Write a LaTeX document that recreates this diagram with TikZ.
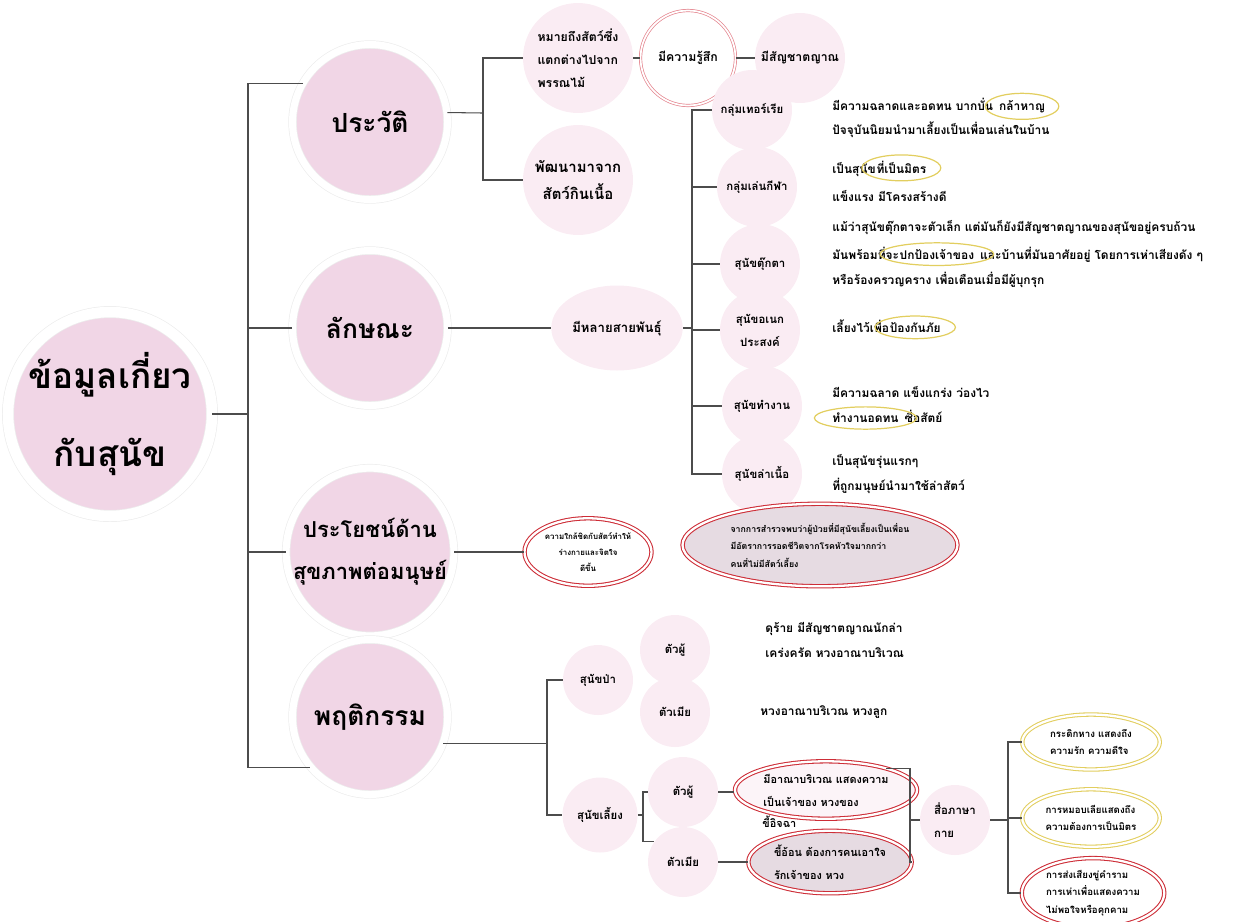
\documentclass[tikz,border=0pt]{standalone}
\usepackage{fontspec}
\usepackage{tikz}
\usetikzlibrary{positioning,fit,shapes.geometric}
\newfontfamily\thaifont[Script=Thai]{Loma}
\definecolor{blushpink}{RGB}{241,214,230}
\definecolor{palepink}{RGB}{250,236,243}
\definecolor{markred}{RGB}{205,45,55}
\definecolor{softred}{RGB}{228,130,140}
\definecolor{markyel}{RGB}{226,206,95}
\definecolor{greyfill}{RGB}{230,219,226}
\tikzset{
  rootcirc/.style={circle, fill=blushpink, draw=black!7, double=white, double distance=6pt, line width=0.4pt,
    minimum size=3.8cm, inner sep=0pt, align=center, font=\thaifont\bfseries\fontsize{20}{44}\selectfont},
  bigcirc/.style={circle, fill=blushpink, draw=black!7, double=white, double distance=4pt, line width=0.4pt,
    minimum size=3.1cm, inner sep=0pt, align=center, font=\thaifont\bfseries\fontsize{15}{22}\selectfont},
  softcirc/.style={circle, fill=palepink, minimum size=1.6cm, inner sep=1pt, align=center,
    font=\thaifont\bfseries\fontsize{6.5}{13}\selectfont},
  softoval/.style={ellipse, fill=palepink, minimum width=2.6cm, minimum height=1.7cm, inner sep=1pt,
    font=\thaifont\bfseries\fontsize{7.5}{13}\selectfont},
  desc/.style={inner sep=0pt, align=left, font=\thaifont\bfseries\fontsize{6.8}{14.5}\selectfont},
  hilite/.style={ellipse, draw=markyel, line width=0.7pt, inner sep=1.5pt},
  redring/.style={ellipse, draw=markred, double=white, double distance=1.3pt, line width=0.6pt,
    inner sep=1pt, align=left, font=\thaifont\bfseries\fontsize{5}{10}\selectfont},
  yelring/.style={ellipse, draw=markyel, double=white, double distance=1.3pt, line width=0.6pt,
    inner sep=1pt, align=left, font=\thaifont\bfseries\fontsize{5.5}{10}\selectfont},
  link/.style={draw=black!70, line width=0.6pt}
}
\begin{document}
\begin{tikzpicture}[x=0.02cm, y=-0.02cm]
\useasboundingbox (0,0) rectangle (1246,921);

\node[rootcirc] (root) at (110,414) {ข้อมูลเกี่ยว\\กับสุนัข};
\coordinate (trunk) at (248,414);

\node[bigcirc] (pv) at (370,122) {ประวัติ};
\node[bigcirc] (lk) at (370,328) {ลักษณะ};
\node[bigcirc, font=\thaifont\bfseries\fontsize{12.5}{24}\selectfont] (pr) at (370,552) {ประโยชน์ด้าน\\สุขภาพต่อมนุษย์};
\node[bigcirc] (pf) at (370,717) {พฤติกรรม};

\draw[link] (root.east) -- (trunk);
\draw[link] (pv.150) -| (trunk) |- (pf.220);
\draw[link] (lk.west) -- (lk.west -| trunk);
\draw[link] (pr.west) -- (pr.west -| trunk);

\node[softcirc, minimum size=2.2cm, align=left, font=\thaifont\bfseries\fontsize{7}{13}\selectfont] (mh) at (578,58) {หมายถึงสัตว์ซึ่ง\\แตกต่างไปจาก\\พรรณไม้};
\node[softcirc, minimum size=2.2cm, font=\thaifont\bfseries\fontsize{8.5}{15}\selectfont] (pt) at (578,180) {พัฒนามาจาก\\สัตว์กินเนื้อ};
\node[circle, draw=softred, double=white, double distance=1pt, line width=0.4pt, minimum size=1.9cm,
  font=\thaifont\bfseries\fontsize{7}{12}\selectfont] (rf) at (688,58) {มีความรู้สึก};
\node[softcirc, minimum size=1.8cm, font=\thaifont\bfseries\fontsize{7}{12}\selectfont] (ms) at (800,58) {มีสัญชาตญาณ};
\coordinate (pvbus) at (483,113);
\draw[link] (pv.7) -- (pvbus);
\draw[link] (mh.west) -| (pvbus) |- (pt.west);
\draw[link] (mh.east) -- (rf.west);
\draw[link] (rf.east) -- (ms.west);

\node[softoval] (ml) at (617,328) {มีหลายสายพันธุ์};
\coordinate (lkbus) at (692,328);
\draw[link] (lk.east) -- (ml.west);
\draw[link] (ml.east) -- (lkbus);

\node[softcirc] (g1) at (752,110) {กลุ่มเทอร์เรีย};
\node[softcirc] (g2) at (757,187) {กลุ่มเล่นกีฬา};
\node[softcirc] (g3) at (760,264) {สุนัขตุ๊กตา};
\node[softcirc] (g4) at (760,330) {สุนัขอเนก\\ประสงค์};
\node[softcirc] (g5) at (762,406) {สุนัขทำงาน};
\node[softcirc] (g6) at (762,474) {สุนัขล่าเนื้อ};
\draw[link] (g1.west) -| (lkbus) |- (g6.west);
\draw[link] (g2.west) -- (g2.west -| lkbus);
\draw[link] (g3.west) -- (g3.west -| lkbus);
\draw[link] (g4.west) -- (g4.west -| lkbus);
\draw[link] (g5.west) -- (g5.west -| lkbus);

\node[desc, anchor=west] (d1a) at (832,104) {มีความฉลาดและอดทน บากบั่น};
\node[desc, base right=3pt of d1a] (hw1) {กล้าหาญ};
\node[desc, anchor=west] (d1b) at (832,130) {ปัจจุบันนิยมนำมาเลี้ยงเป็นเพื่อนเล่นในบ้าน};
\node[desc, anchor=west] (d2a) at (832,170) {เป็นสุนัข};
\node[desc, base right=0pt of d2a] (hw2) {ที่เป็นมิตร};
\node[desc, anchor=west] (d2b) at (832,196) {แข็งแรง มีโครงสร้างดี};
\node[desc, anchor=west] (d3a) at (832,228) {แม้ว่าสุนัขตุ๊กตาจะตัวเล็ก แต่มันก็ยังมีสัญชาตญาณของสุนัขอยู่ครบถ้วน};
\node[desc, anchor=west] (d3b) at (832,253) {มันพร้อมที่จะ};
\node[desc, base right=0pt of d3b] (hw3) {ปกป้องเจ้าของ};
\node[desc, base right=3pt of hw3] (d3c) {และบ้านที่มันอาศัยอยู่ โดยการเห่าเสียงดัง ๆ};
\node[desc, anchor=west] (d3d) at (832,280) {หรือร้องครวญคราง เพื่อเตือนเมื่อมีผู้บุกรุก};
\node[desc, anchor=west] (d4a) at (832,326) {เลี้ยงไว้เพื่อ};
\node[desc, base right=0pt of d4a] (hw4) {ป้องกันภัย};
\node[desc, anchor=west] (d5a) at (832,392) {มีความฉลาด แข็งแกร่ง ว่องไว};
\node[desc, anchor=west] (hw5) at (832,418) {ทำงานอดทน};
\node[desc, base right=3pt of hw5] (d5b) {ซื่อสัตย์};
\node[desc, anchor=west] (d6a) at (832,462) {เป็นสุนัขรุ่นแรกๆ};
\node[desc, anchor=west] (d6b) at (832,486) {ที่ถูกมนุษย์นำมาใช้ล่าสัตว์};
\node[hilite, fit=(hw1)] (hr1) {};
\node[hilite, fit=(hw2)] (hr2) {};
\node[hilite, fit=(hw3)] (hr3) {};
\node[hilite, fit=(hw4)] (hr4) {};
\node[hilite, fit=(hw5)] (hr5) {};

\node[redring, align=center, minimum width=2cm, minimum height=1.35cm, font=\thaifont\bfseries\fontsize{4.5}{9}\selectfont] (hb) at (588,552) {ความใกล้ชิดกับสัตว์ทำให้\\ร่างกายและจิตใจ\\ดีขึ้น};
\node[redring, fill=greyfill, minimum width=5.5cm, minimum height=1.65cm] (sv) at (820,545) {จากการสำรวจพบว่าผู้ป่วยที่มีสุนัขเลี้ยงเป็นเพื่อน\\มีอัตราการรอดชีวิตจากโรคหัวใจมากกว่า\\คนที่ไม่มีสัตว์เลี้ยง};
\draw[link] (pr.east) -- (hb.west);

\coordinate (pfbus) at (547,745);
\draw[link] (pf.-20) -- (pf.-20 -| pfbus);
\node[softcirc, minimum size=1.4cm] (wd) at (598,680) {สุนัขป่า};
\node[softcirc, minimum size=1.5cm] (dm) at (600,815) {สุนัขเลี้ยง};
\draw[link] (wd.west) -| (pfbus) |- (dm.west);

\node[softcirc, minimum size=1.4cm] (wm) at (675,650) {ตัวผู้};
\node[softcirc, minimum size=1.4cm] (wf) at (675,712) {ตัวเมีย};
\node[desc, anchor=west] (wmd) at (765,640) {ดุร้าย มีสัญชาตญาณนักล่า\\เคร่งครัด หวงอาณาบริเวณ};
\node[desc, anchor=west] (wfd) at (760,712) {หวงอาณาบริเวณ หวงลูก};

\node[softcirc, minimum size=1.4cm] (dm1) at (683,792) {ตัวผู้};
\node[softcirc, minimum size=1.4cm] (dm2) at (683,862) {ตัวเมีย};
\coordinate (dmbus) at (643,815);
\draw[link] (dm.east) -- (dmbus);
\draw[link] (dm1.west) -| (dmbus) |- (dm2.145);

\node[redring, fill=palepink!60, minimum width=3cm, minimum height=1.15cm, font=\thaifont\bfseries\fontsize{6.2}{13}\selectfont] (e1) at (826,790) {มีอาณาบริเวณ แสดงความ\\เป็นเจ้าของ หวงของ};
\node[desc, anchor=west, font=\thaifont\bfseries\fontsize{6.2}{13}\selectfont] (e1x) at (762,822) {ขี้อิจฉา};
\node[redring, fill=greyfill, minimum width=2.9cm, minimum height=1.25cm, font=\thaifont\bfseries\fontsize{6.2}{13}\selectfont] (e2) at (830,862) {ขี้อ้อน ต้องการคนเอาใจ\\รักเจ้าของ หวง};
\draw[link] (dm1.east) -- (dm1.east -| e1.west);
\draw[link] (dm2.east) -- (e2.west);

\coordinate (bodybus) at (910,820);
\node[softcirc, minimum size=1.4cm, align=left] (bl) at (955,820) {สื่อภาษา\\กาย};
\draw[link] (e1.20) -| (bodybus) |- (e2.east);
\draw[link] (bodybus) -- (bl.west);

\coordinate (blbus) at (1008,820);
\node[yelring, minimum width=2.75cm, minimum height=1.1cm] (k1) at (1091,742) {กระดิกหาง แสดงถึง\\ความรัก ความดีใจ};
\node[yelring, minimum width=2.75cm, minimum height=1.15cm] (k2) at (1091,818) {การหมอบเลียแสดงถึง\\ความต้องการเป็นมิตร};
\node[redring, minimum width=2.85cm, minimum height=1.3cm, font=\thaifont\bfseries\fontsize{5.5}{10}\selectfont] (k3) at (1093,893) {การส่งเสียงขู่คำราม\\การเห่าเพื่อแสดงความ\\ไม่พอใจหรือคุกคาม};
\draw[link] (bl.east) -- (blbus);
\draw[link] (k1.west) -| (blbus) |- (k3.west);
\draw[link] (k2.west) -- (k2.west -| blbus);
\end{tikzpicture}
\end{document}
